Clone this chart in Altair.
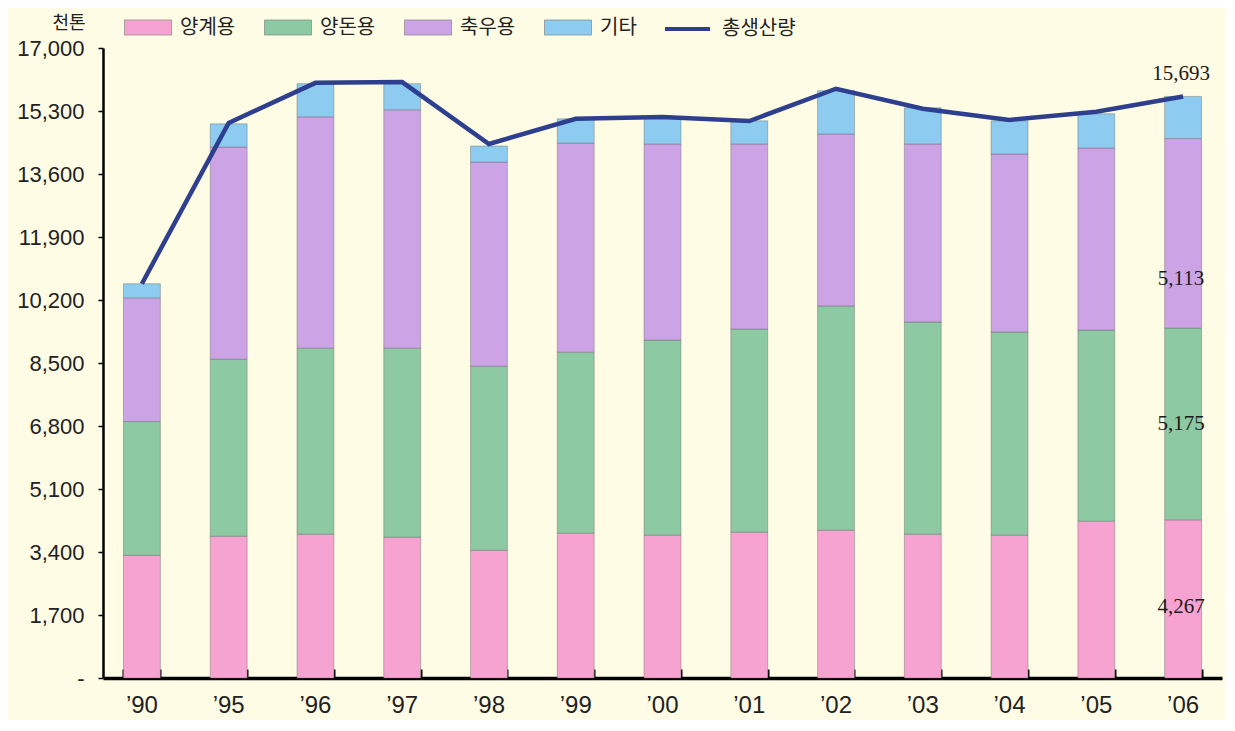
import altair as alt
import pandas as pd

years = ["’90", "’95", "’96", "’97", "’98", "’99", "’00", "’01", "’02", "’03", "’04", "’05", "’06"]
poultry = [3311, 3826, 3881, 3799, 3446, 3908, 3853, 3935, 3989, 3881, 3853, 4233, 4267]
swine = [3609, 4776, 5020, 5102, 4967, 4884, 5265, 5482, 6052, 5726, 5482, 5156, 5175]
cattle = [3338, 5726, 6241, 6431, 5508, 5645, 5292, 4993, 4640, 4803, 4803, 4912, 5113]
other = [380, 625, 896, 706, 434, 651, 705, 624, 1167, 977, 896, 923, 1138]
total = [10640, 14980, 16060, 16080, 14410, 15090, 15140, 15030, 15900, 15360, 15060, 15280, 15693]
series = ["양계용", "양돈용", "축우용", "기타"]
line_name = "총생산량"
unit = "천톤"
y_ticks = [0, 1700, 3400, 5100, 6800, 8500, 10200, 11900, 13600, 15300, 17000]

colors = ["#F7A3D1", "#8DC9A3", "#CCA4E6", "#8DCCF0"]
line_color = "#2D3F8E"
bg = "#FEFCE5"

rows = []
for i, y in enumerate(years):
    for k, (s, arr) in enumerate(zip(series, [poultry, swine, cattle, other])):
        rows.append({"year": y, "series": s, "value": arr[i], "ord": k})
df = pd.DataFrame(rows)
df_line = pd.DataFrame({"year": years, "total": total, "name": line_name})

W, H = 1119, 630

y_axis = alt.Axis(
    title=unit, titleAngle=0, titleAlign="right", titleBaseline="middle",
    titleX=-18, titleY=-25, titleFont="Noto Sans CJK KR", titleFontSize=18,
    titleFontWeight="normal", titleColor="#222",
    values=y_ticks, labelExpr="datum.value == 0 ? '-' : format(datum.value, ',')",
    labelFont="Liberation Sans Narrow, Liberation Sans", labelFontSize=22, labelColor="#222",
    labelPadding=14, tickSize=5, tickColor="black", tickWidth=1.5,
    domainColor="black", domainWidth=2.5, grid=False,
)
y_scale = alt.Scale(domain=[0, 17000], nice=False, zero=True)
x_scale = alt.Scale(paddingInner=0.575, paddingOuter=0.236)

bars = alt.Chart(df).mark_bar(stroke="#666666", strokeWidth=0.6, strokeOpacity=0.7).encode(
    x=alt.X("year:N", sort=years, scale=x_scale,
            axis=alt.Axis(title=None, labelAngle=0, ticks=False, domain=False,
                          labelFont="Liberation Sans Narrow, Liberation Sans", labelFontSize=24,
                          labelColor="#222", labelPadding=15)),
    y=alt.Y("value:Q", stack="zero", scale=y_scale, axis=y_axis),
    color=alt.Color("series:N", sort=series,
                    scale=alt.Scale(domain=series, range=colors),
                    legend=alt.Legend(title=None, orient="none", legendX=21, legendY=-44.5,
                                      direction="horizontal",
                                      symbolType="M-1,-0.32H1V0.32H-1Z", symbolSize=2209,
                                      symbolStrokeColor="#777777", symbolStrokeWidth=0.6,
                                      symbolOpacity=1,
                                      labelFont="Noto Sans CJK KR", labelFontSize=20,
                                      labelColor="#222", labelOffset=8, columnPadding=27)),
    order=alt.Order("ord:Q"),
)

line = alt.Chart(df_line).mark_line(strokeWidth=4.5).encode(
    x=alt.X("year:N", sort=years, scale=x_scale,
            axis=alt.Axis(title=None, orient="top", offset=-H, labels=False,
                          tickBand="extent", tickSize=9, tickWidth=2, tickColor="black",
                          domainColor="black", domainWidth=3.5)),
    y=alt.Y("total:Q", scale=y_scale, axis=y_axis),
    stroke=alt.Stroke("name:N", scale=alt.Scale(domain=[line_name], range=[line_color]),
                      legend=alt.Legend(title=None, orient="none", legendX=560, legendY=-43.5,
                                        symbolType="stroke", symbolSize=2025,
                                        symbolStrokeWidth=4,
                                        labelFont="Noto Sans CJK KR", labelFontSize=20,
                                        labelColor="#222", labelOffset=10)),
)

# value labels for the last year
last = years[-1]
lab_specs = [
    (total[-1], total[-1], -22),
    (cattle[-1], poultry[-1] + swine[-1] + cattle[-1] / 2, 46),
    (swine[-1], poultry[-1] + swine[-1] / 2, 0),
    (poultry[-1], poultry[-1] / 2, 8),
]
texts = []
for val, ypos, dy in lab_specs:
    d = pd.DataFrame({"year": [last], "ypos": [ypos], "txt": [f"{val:,}"]})
    texts.append(
        alt.Chart(d).mark_text(font="Liberation Serif", fontSize=21, color="#1a1a1a",
                               dy=dy, dx=-2, align="center", baseline="middle").encode(
            x=alt.X("year:N", sort=years, scale=x_scale, axis=None),
            y=alt.Y("ypos:Q", scale=y_scale, axis=y_axis),
            text="txt:N",
        )
    )

chart = alt.layer(bars, line, *texts).resolve_axis(x="independent").properties(
    width=W, height=H,
    autosize=alt.AutoSizeParams(type="none"),
    padding={"left": 95, "top": 40, "right": 3, "bottom": 42},
    background=bg,
).configure_view(stroke=None)

chart.save("out.html", embed_options={"renderer": "svg", "actions": False})
